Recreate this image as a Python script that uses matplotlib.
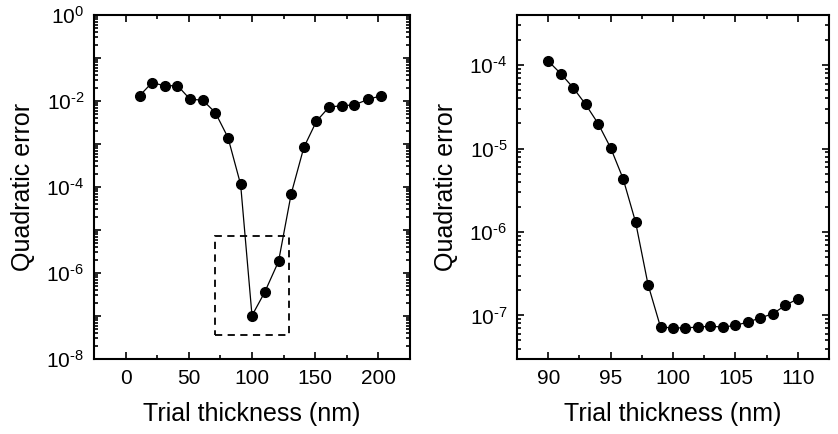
import matplotlib
matplotlib.use("Agg")
import matplotlib.pyplot as plt
import matplotlib.ticker as mticker
from matplotlib.patches import Rectangle
import numpy as np

plt.rcParams['font.family'] = ['Liberation Sans', 'DejaVu Sans']
plt.rcParams['mathtext.fontset'] = 'custom'
plt.rcParams['mathtext.rm'] = 'Liberation Sans'
plt.rcParams['mathtext.it'] = 'Liberation Sans'
plt.rcParams['mathtext.default'] = 'regular'

# Left panel: coarse scan
thick_coarse = [11, 21, 31, 41, 51, 61, 71, 81, 91, 100,
                110, 121, 131, 141, 151, 161, 171, 181, 192, 202]
log_err_coarse = [-1.88, -1.57, -1.65, -1.64, -1.96, -1.98, -2.27, -2.85, -3.94, -6.99,
                  -6.45, -5.73, -4.16, -3.08, -2.47, -2.14, -2.11, -2.09, -1.96, -1.88]
err_coarse = [10 ** v for v in log_err_coarse]

# Right panel: fine scan
thick_fine = list(range(90, 111))
log_err_fine = [-3.95, -4.10, -4.27, -4.47, -4.70, -4.99, -5.36, -5.88, -6.63, -7.14,
                -7.15, -7.15, -7.14, -7.13, -7.14, -7.12, -7.08, -7.03, -6.98, -6.88, -6.80]
err_fine = [10 ** v for v in log_err_fine]

# Zoom box (x0, x1, y0, y1)
box = [71, 129, 3.7e-8, 7.4e-6]

fig = plt.figure(figsize=(8.38, 4.34), dpi=100)
axL = fig.add_axes([94/838, 1-359/434, (410-94)/838, (359-15)/434])
axR = fig.add_axes([517/838, 1-359/434, (829-517)/838, (359-15)/434])

def style(ax):
    for s in ax.spines.values():
        s.set_linewidth(1.5)
    ax.tick_params(which='both', direction='in', top=True, right=True,
                   labelsize=15, width=1.2)
    ax.tick_params(which='major', length=5, pad=7)
    ax.tick_params(which='minor', length=2.8)
    ax.set_xlabel('Trial thickness (nm)', fontsize=18, labelpad=10)
    ax.set_ylabel('Quadratic error', fontsize=18, labelpad=8)

def sup(e):
    s = '\u2010%d' % abs(e) if e < 0 else '%d' % e
    return r'$10^{%s}$' % s

# Left
axL.plot(thick_coarse, err_coarse, '-', color='black', lw=0.9,
         marker='o', ms=7, mfc='black', mec='black')
axL.set_yscale('log')
axL.set_ylim(1e-8, 1)
axL.set_xlim(-25, 225)
axL.xaxis.set_major_locator(mticker.MultipleLocator(50))
axL.xaxis.set_minor_locator(mticker.MultipleLocator(25))
axL.yaxis.set_major_locator(mticker.LogLocator(base=10, numticks=20))
axL.yaxis.set_minor_locator(mticker.LogLocator(base=10, subs=np.arange(2, 10), numticks=50))
def fmtL(v, pos):
    e = int(round(np.log10(v)))
    return sup(e) if e % 2 == 0 else ''
axL.yaxis.set_major_formatter(mticker.FuncFormatter(fmtL))
axL.yaxis.set_minor_formatter(mticker.NullFormatter())
axL.add_patch(Rectangle((box[0], box[2]), box[1]-box[0], box[3]-box[2],
                        fill=False, ls=(0, (4, 3)), lw=1.3, ec='black'))
style(axL)

# Right
axR.plot(thick_fine, err_fine, '-', color='black', lw=0.9,
         marker='o', ms=7, mfc='black', mec='black')
axR.set_yscale('log')
axR.set_ylim(3e-8, 4e-4)
axR.set_xlim(87.5, 112.5)
axR.xaxis.set_major_locator(mticker.MultipleLocator(5))
axR.xaxis.set_minor_locator(mticker.MultipleLocator(2.5))
axR.yaxis.set_major_locator(mticker.LogLocator(base=10, numticks=20))
axR.yaxis.set_minor_locator(mticker.LogLocator(base=10, subs=np.arange(2, 10), numticks=50))
def fmtR(v, pos):
    return sup(int(round(np.log10(v))))
axR.yaxis.set_major_formatter(mticker.FuncFormatter(fmtR))
axR.yaxis.set_minor_formatter(mticker.NullFormatter())
style(axR)

fig.savefig('out.png', dpi=100)
